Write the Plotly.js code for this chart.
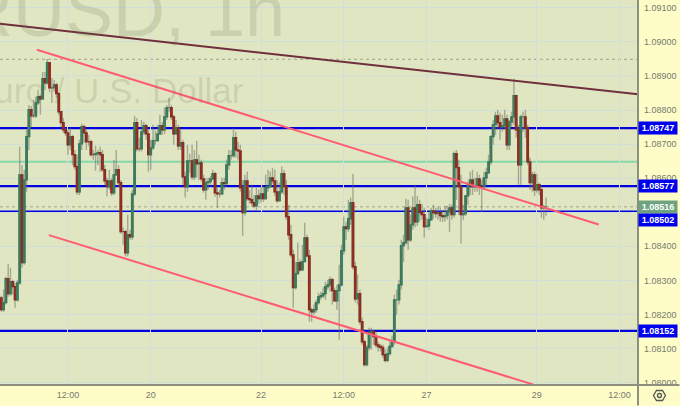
<!DOCTYPE html>
<html><head><meta charset="utf-8">
<script src="https://cdn.plot.ly/plotly-3.0.1.min.js"></script>
<style>html,body{margin:0;padding:0;background:#fefdc8;overflow:hidden}#c{width:680px;height:406px}</style>
</head><body><div id="c"></div>
<script>
const closes=[1.08214,1.08235,1.08305,1.08261,1.08296,1.08282,1.08243,1.08293,1.08610,1.08352,1.08595,1.08722,1.08801,1.08783,1.08783,1.08821,1.08839,1.08833,1.08892,1.08880,1.08939,1.08865,1.08865,1.08874,1.08848,1.08795,1.08763,1.08742,1.08733,1.08698,1.08722,1.08669,1.08634,1.08560,1.08701,1.08751,1.08733,1.08707,1.08707,1.08669,1.08669,1.08672,1.08675,1.08669,1.08625,1.08592,1.08575,1.08592,1.08557,1.08610,1.08625,1.08587,1.08443,1.08443,1.08381,1.08434,1.08428,1.08554,1.08763,1.08686,1.08686,1.08736,1.08754,1.08730,1.08669,1.08689,1.08710,1.08710,1.08730,1.08754,1.08742,1.08780,1.08807,1.08807,1.08780,1.08730,1.08748,1.08695,1.08704,1.08604,1.08575,1.08651,1.08651,1.08604,1.08654,1.08642,1.08645,1.08598,1.08566,1.08587,1.08590,1.08598,1.08613,1.08557,1.08554,1.08554,1.08587,1.08584,1.08639,1.08666,1.08666,1.08719,1.08683,1.08680,1.08572,1.08499,1.08592,1.08540,1.08537,1.08528,1.08519,1.08548,1.08540,1.08554,1.08540,1.08572,1.08575,1.08601,1.08592,1.08560,1.08534,1.08560,1.08613,1.08575,1.08487,1.08434,1.08375,1.08279,1.08320,1.08352,1.08331,1.08355,1.08425,1.08372,1.08214,1.08208,1.08214,1.08235,1.08252,1.08255,1.08261,1.08282,1.08287,1.08302,1.08270,1.08240,1.08270,1.08287,1.08387,1.08457,1.08452,1.08481,1.08528,1.08340,1.08246,1.08261,1.08179,1.08120,1.08053,1.08103,1.08147,1.08150,1.08135,1.08111,1.08106,1.08103,1.08082,1.08065,1.08085,1.08106,1.08123,1.08243,1.08243,1.08287,1.08402,1.08411,1.08513,1.08419,1.08463,1.08513,1.08472,1.08522,1.08499,1.08493,1.08458,1.08460,1.08478,1.08504,1.08499,1.08496,1.08499,1.08490,1.08487,1.08490,1.08501,1.08513,1.08493,1.08672,1.08631,1.08575,1.08493,1.08496,1.08548,1.08581,1.08595,1.08575,1.08575,1.08598,1.08575,1.08575,1.08601,1.08616,1.08648,1.08722,1.08757,1.08783,1.08763,1.08751,1.08754,1.08774,1.08698,1.08765,1.08780,1.08842,1.08742,1.08639,1.08780,1.08780,1.08748,1.08648,1.08587,1.08610,1.08566,1.08581,1.08566,1.08513,1.08516,1.08516];
const highs=[1.08255,1.08273,1.08311,1.08349,1.08337,1.08302,1.08293,1.08302,1.08692,1.08639,1.08625,1.08742,1.08815,1.08812,1.08830,1.08839,1.08859,1.08845,1.08912,1.08912,1.08950,1.08941,1.08895,1.08889,1.08880,1.08853,1.08795,1.08777,1.08748,1.08742,1.08748,1.08727,1.08683,1.08669,1.08713,1.08760,1.08757,1.08742,1.08727,1.08713,1.08683,1.08695,1.08683,1.08692,1.08683,1.08639,1.08601,1.08625,1.08601,1.08654,1.08683,1.08639,1.08595,1.08455,1.08449,1.08493,1.08449,1.08566,1.08783,1.08777,1.08719,1.08771,1.08765,1.08760,1.08742,1.08713,1.08757,1.08739,1.08757,1.08786,1.08765,1.08807,1.08815,1.08836,1.08815,1.08786,1.08771,1.08757,1.08742,1.08713,1.08619,1.08698,1.08672,1.08698,1.08683,1.08710,1.08669,1.08654,1.08610,1.08601,1.08601,1.08607,1.08625,1.08619,1.08572,1.08566,1.08601,1.08601,1.08654,1.08683,1.08683,1.08748,1.08736,1.08707,1.08698,1.08595,1.08610,1.08619,1.08566,1.08581,1.08551,1.08572,1.08566,1.08575,1.08578,1.08610,1.08625,1.08619,1.08631,1.08625,1.08595,1.08587,1.08634,1.08625,1.08595,1.08522,1.08463,1.08390,1.08355,1.08411,1.08361,1.08405,1.08469,1.08434,1.08390,1.08220,1.08229,1.08243,1.08264,1.08267,1.08279,1.08296,1.08302,1.08311,1.08308,1.08279,1.08287,1.08346,1.08405,1.08487,1.08472,1.08537,1.08543,1.08613,1.08355,1.08317,1.08273,1.08191,1.08126,1.08111,1.08161,1.08161,1.08155,1.08150,1.08120,1.08114,1.08111,1.08097,1.08103,1.08120,1.08138,1.08258,1.08273,1.08302,1.08419,1.08434,1.08540,1.08537,1.08493,1.08546,1.08581,1.08548,1.08537,1.08525,1.08513,1.08484,1.08499,1.08513,1.08522,1.08513,1.08516,1.08513,1.08507,1.08519,1.08519,1.08525,1.08522,1.08678,1.08683,1.08654,1.08610,1.08522,1.08551,1.08590,1.08619,1.08625,1.08601,1.08619,1.08610,1.08595,1.08619,1.08631,1.08669,1.08727,1.08771,1.08795,1.08801,1.08792,1.08786,1.08801,1.08786,1.08771,1.08795,1.08892,1.08845,1.08757,1.08786,1.08795,1.08801,1.08757,1.08660,1.08619,1.08619,1.08613,1.08587,1.08578,1.08522,1.08543];
const lows=[1.08208,1.08208,1.08229,1.08252,1.08255,1.08258,1.08220,1.08238,1.08287,1.08337,1.08346,1.08560,1.08683,1.08748,1.08777,1.08777,1.08815,1.08786,1.08830,1.08859,1.08874,1.08853,1.08821,1.08853,1.08836,1.08786,1.08751,1.08733,1.08724,1.08669,1.08683,1.08639,1.08625,1.08551,1.08551,1.08683,1.08704,1.08683,1.08695,1.08663,1.08654,1.08622,1.08639,1.08619,1.08619,1.08581,1.08546,1.08566,1.08548,1.08551,1.08607,1.08575,1.08437,1.08405,1.08370,1.08370,1.08419,1.08419,1.08548,1.08678,1.08678,1.08678,1.08727,1.08713,1.08619,1.08625,1.08683,1.08698,1.08713,1.08727,1.08727,1.08730,1.08771,1.08795,1.08771,1.08698,1.08730,1.08683,1.08683,1.08581,1.08543,1.08560,1.08616,1.08595,1.08595,1.08601,1.08595,1.08590,1.08557,1.08537,1.08566,1.08575,1.08595,1.08546,1.08513,1.08543,1.08551,1.08566,1.08575,1.08625,1.08654,1.08660,1.08660,1.08654,1.08560,1.08431,1.08490,1.08534,1.08525,1.08516,1.08513,1.08507,1.08525,1.08528,1.08531,1.08537,1.08560,1.08590,1.08584,1.08548,1.08528,1.08531,1.08554,1.08551,1.08478,1.08419,1.08367,1.08220,1.08273,1.08317,1.08326,1.08337,1.08361,1.08367,1.08179,1.08179,1.08199,1.08205,1.08229,1.08243,1.08249,1.08243,1.08273,1.08267,1.08229,1.08238,1.08214,1.08126,1.08282,1.08375,1.08419,1.08443,1.08463,1.08331,1.08235,1.08229,1.08170,1.08111,1.08047,1.08047,1.08094,1.08097,1.08111,1.08103,1.08091,1.08091,1.08073,1.08059,1.08059,1.08079,1.08103,1.08111,1.08199,1.08229,1.08273,1.08355,1.08405,1.08390,1.08413,1.08449,1.08455,1.08460,1.08472,1.08478,1.08425,1.08455,1.08449,1.08478,1.08481,1.08484,1.08478,1.08472,1.08472,1.08472,1.08478,1.08443,1.08478,1.08484,1.08537,1.08493,1.08408,1.08478,1.08490,1.08522,1.08551,1.08551,1.08560,1.08560,1.08551,1.08501,1.08566,1.08578,1.08625,1.08639,1.08698,1.08727,1.08742,1.08713,1.08736,1.08742,1.08683,1.08683,1.08751,1.08757,1.08719,1.08581,1.08581,1.08736,1.08719,1.08639,1.08566,1.08560,1.08548,1.08557,1.08551,1.08484,1.08478,1.08490];
const firstOpen=1.08249;
const opens=closes.map((c,i)=>i?closes[i-1]:firstOpen);
const hours=closes.map((c,i)=>i);
const tickHours=[29,65,113,149,185,233,269];
const tickText=['12:00','20','22','12:00','27','29','12:00'];
const blueLevels=[1.08747,1.08577,1.08502,1.08152];
const greenLevel=1.08648, dayHigh=1.08949, lastPrice=1.08516;
const maroonLine={n:[-0.565,277],p:[1.09053,1.08846]};
const upperLine={n:[15.5,259.9],p:[1.08977,1.08464]};
const lowerLine={n:[20.7,231.6],p:[1.08433,1.07994]};
const W=638.5,H=385.5;
const hl=(p,color,width,dash)=>({type:'line',xref:'paper',x0:0,x1:1,yref:'y',y0:p,y1:p,layer:'below',line:{color,width,dash:dash||'solid'}});
const tl=(o,color,width)=>({type:'line',xref:'x',yref:'y',x0:o.n[0],x1:o.n[1],y0:o.p[0],y1:o.p[1],layer:'above',line:{color,width}});
const hex=[[666,396],[663,401],[657,401],[654,396],[657,391],[663,391]].map(a=>(a[0]/W)+','+(1-a[1]/H));
const shapes=[
 hl(dayHigh,'#a3a58c',1,'dot'),hl(lastPrice,'#a3a58c',1,'dot'),hl(greenLevel,'#86d8aa',2),
 ...blueLevels.map(p=>hl(p,'#0000e0',2.2)),
 tl(maroonLine,'#6f2f3c',2),tl(upperLine,'#ff5c72',2),tl(lowerLine,'#ff5c72',2),
 {type:'line',xref:'paper',yref:'paper',x0:0,x1:680/W,y0:0,y1:0,line:{color:'#8e8f7e',width:2}},
 {type:'line',xref:'paper',yref:'paper',x0:1,x1:1,y0:1,y1:1-406/H,line:{color:'#8e8f7e',width:2}},
 {type:'path',xref:'paper',yref:'paper',path:'M'+hex.join('L')+'Z',line:{color:'#55564f',width:1.3}},
 {type:'circle',xref:'paper',yref:'paper',x0:658/W,x1:662/W,y0:1-398/H,y1:1-394/H,line:{color:'#55564f',width:1.3}}
];
const annFont={family:'Liberation Sans, Arial, sans-serif',size:9,color:'#ffffff'};
const priceLabel=(p,bg,shift)=>({xref:'paper',x:1,xanchor:'left',yref:'y',y:p,yanchor:'middle',yshift:shift,text:'<b>'+p.toFixed(5)+'</b>',showarrow:false,width:38,height:12,bgcolor:bg,borderpad:0,font:annFont,align:'center'});
const annotations=[
 {xref:'paper',yref:'paper',x:287/W,xanchor:'right',y:1-53/H,yanchor:'bottom',text:'EURUSD, 1h',showarrow:false,font:{family:'Liberation Sans, Arial, sans-serif',size:72,color:'rgba(90,100,70,0.17)'}},
 {xref:'paper',yref:'paper',x:246/W,xanchor:'right',y:1-112/H,yanchor:'bottom',text:'Euro / U.S. Dollar',showarrow:false,font:{family:'Liberation Sans, Arial, sans-serif',size:35,color:'rgba(90,100,70,0.17)'}},
 priceLabel(1.08747,'#0000ee',0),priceLabel(1.08577,'#0000ee',0),priceLabel(1.08516,'#6fa280',0),priceLabel(1.08502,'#0000ee',-8.5),priceLabel(1.08152,'#0000ee',0)
];
const wicks={type:'candlestick',x:hours,open:opens,high:highs,low:lows,close:closes,whiskerwidth:0,
 increasing:{line:{color:'rgba(105,105,95,0.5)',width:1.4},fillcolor:'rgba(0,0,0,0)'},
 decreasing:{line:{color:'rgba(105,105,95,0.5)',width:1.4},fillcolor:'rgba(0,0,0,0)'},hoverinfo:'skip',showlegend:false};
const bodies={type:'candlestick',x:hours,open:opens,close:closes,
 high:closes.map((c,i)=>Math.max(c,opens[i])),low:closes.map((c,i)=>Math.min(c,opens[i])),whiskerwidth:0,
 increasing:{line:{color:'#3a7a5a',width:1.3},fillcolor:'#4b8f6c'},
 decreasing:{line:{color:'#8a2c20',width:1.3},fillcolor:'#bd3a2b'},showlegend:false};
Plotly.newPlot('c',[wicks,bodies],{
 width:680,height:406,margin:{l:0,r:41.5,t:0,b:20.5,pad:0},
 paper_bgcolor:'#fefdc8',plot_bgcolor:'#e0e6c1',boxmode:'overlay',boxgap:0.1,showlegend:false,
 xaxis:{range:[-0.565,277],tickvals:tickHours,ticktext:tickText,ticks:'',showgrid:true,gridcolor:'#d2dfd8',gridwidth:1,zeroline:false,rangeslider:{visible:false},ticklabelstandoff:3,
  tickfont:{family:'Liberation Sans, Arial, sans-serif',size:9,color:'#777a70'},showline:false},
 yaxis:{side:'right',range:[1.07993,1.09123],dtick:0.001,tick0:1.08,tickformat:'.5f',ticks:'',showgrid:true,gridcolor:'#d2dfd8',gridwidth:1,zeroline:false,
  tickfont:{family:'Liberation Sans, Arial, sans-serif',size:9,color:'#777a70'},showline:false,ticklabelstandoff:5},
 shapes,annotations
},{staticPlot:true,displayModeBar:false});
</script></body></html>
